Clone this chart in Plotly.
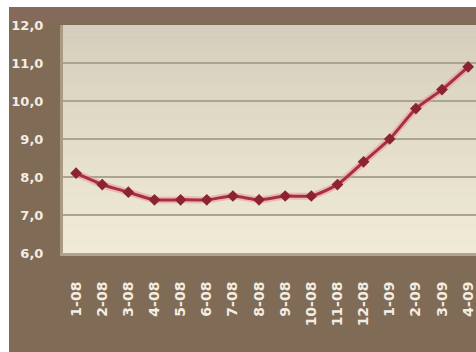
import plotly.graph_objects as go

months = ["1-08", "2-08", "3-08", "4-08", "5-08", "6-08", "7-08", "8-08",
          "9-08", "10-08", "11-08", "12-08", "1-09", "2-09", "3-09", "4-09"]
values = [8.1, 7.8, 7.6, 7.4, 7.4, 7.4, 7.5, 7.4, 7.5, 7.5, 7.8, 8.4, 9.0, 9.8, 10.3, 10.9]
y_ticks = [6, 7, 8, 9, 10, 11, 12]

W, H = 476, 352
L, R, T, B = 63, 0, 25, 99
pw, ph = W - L - R, H - T - B

def px_x(p):
    return (p - L) / pw

def px_y(p):
    return (H - B - p) / ph

fig = go.Figure()

# halo under the line
fig.add_trace(go.Scatter(x=list(range(len(months))), y=values, mode="lines",
                         line=dict(color="rgba(230,150,160,0.55)", width=7, shape="spline", smoothing=0.6),
                         hoverinfo="skip", showlegend=False))
fig.add_trace(go.Scatter(x=list(range(len(months))), y=values, mode="lines+markers",
                         line=dict(color="#a8303e", width=3, shape="spline", smoothing=0.6),
                         marker=dict(symbol="diamond", size=9, color="#8c2430",
                                     line=dict(color="#8c2430", width=0)),
                         showlegend=False))

shapes = []
# gradient background bands for the plot area
n = 24
top_c = (214, 206, 188)
bot_c = (240, 235, 214)
for i in range(n):
    t = i / (n - 1)
    c = tuple(int(round(top_c[k] + (bot_c[k] - top_c[k]) * t)) for k in range(3))
    y1 = 12 - 6 * i / n
    y0 = 12 - 6 * (i + 1) / n
    shapes.append(dict(type="rect", xref="x", yref="y", x0=-0.5, x1=15.5, y0=y0, y1=y1,
                       fillcolor="rgb(%d,%d,%d)" % c, line=dict(width=0), layer="below"))
# white borders at top and left
shapes.append(dict(type="rect", xref="paper", yref="paper", x0=px_x(-5), x1=px_x(9),
                   y0=px_y(360), y1=px_y(-5), fillcolor="white", line=dict(width=0), layer="below"))
shapes.append(dict(type="rect", xref="paper", yref="paper", x0=px_x(-5), x1=px_x(480),
                   y0=px_y(7), y1=px_y(-5), fillcolor="white", line=dict(width=0), layer="below"))
# darker top band of the brown frame
shapes.append(dict(type="rect", xref="paper", yref="paper", x0=px_x(9), x1=px_x(480),
                   y0=px_y(22), y1=px_y(7), fillcolor="#856a5b", line=dict(width=0), layer="below"))

fig.update_layout(
    width=W, height=H,
    margin=dict(l=L, r=R, t=T, b=B, pad=0),
    paper_bgcolor="#806b57",
    plot_bgcolor="#e4ddc8",
    separators=", ",
    shapes=shapes,
    font=dict(family="DejaVu Sans", color="#f4ede2"),
)
fig.update_xaxes(
    range=[-0.5, 15.3],
    tickmode="array", tickvals=list(range(len(months))), ticktext=months,
    tickangle=-90, tickfont=dict(size=14, family="DejaVu Sans", color="#f4ede2", weight="bold"),
    ticks="outside", ticklen=20, tickcolor="rgba(0,0,0,0)",
    showgrid=False, zeroline=False,
    showline=True, linecolor="#b0a48c", linewidth=3,
)
fig.update_yaxes(
    range=[6, 12],
    tickmode="array", tickvals=y_ticks, tickformat=".1f",
    tickfont=dict(size=13, family="DejaVu Sans", color="#f4ede2", weight="bold"),
    ticks="outside", ticklen=14, tickcolor="rgba(0,0,0,0)",
    showgrid=True, gridcolor="#aba491", gridwidth=1.5,
    zeroline=False,
    showline=True, linecolor="#a89a84", linewidth=3,
)

fig.write_html("out.html")
